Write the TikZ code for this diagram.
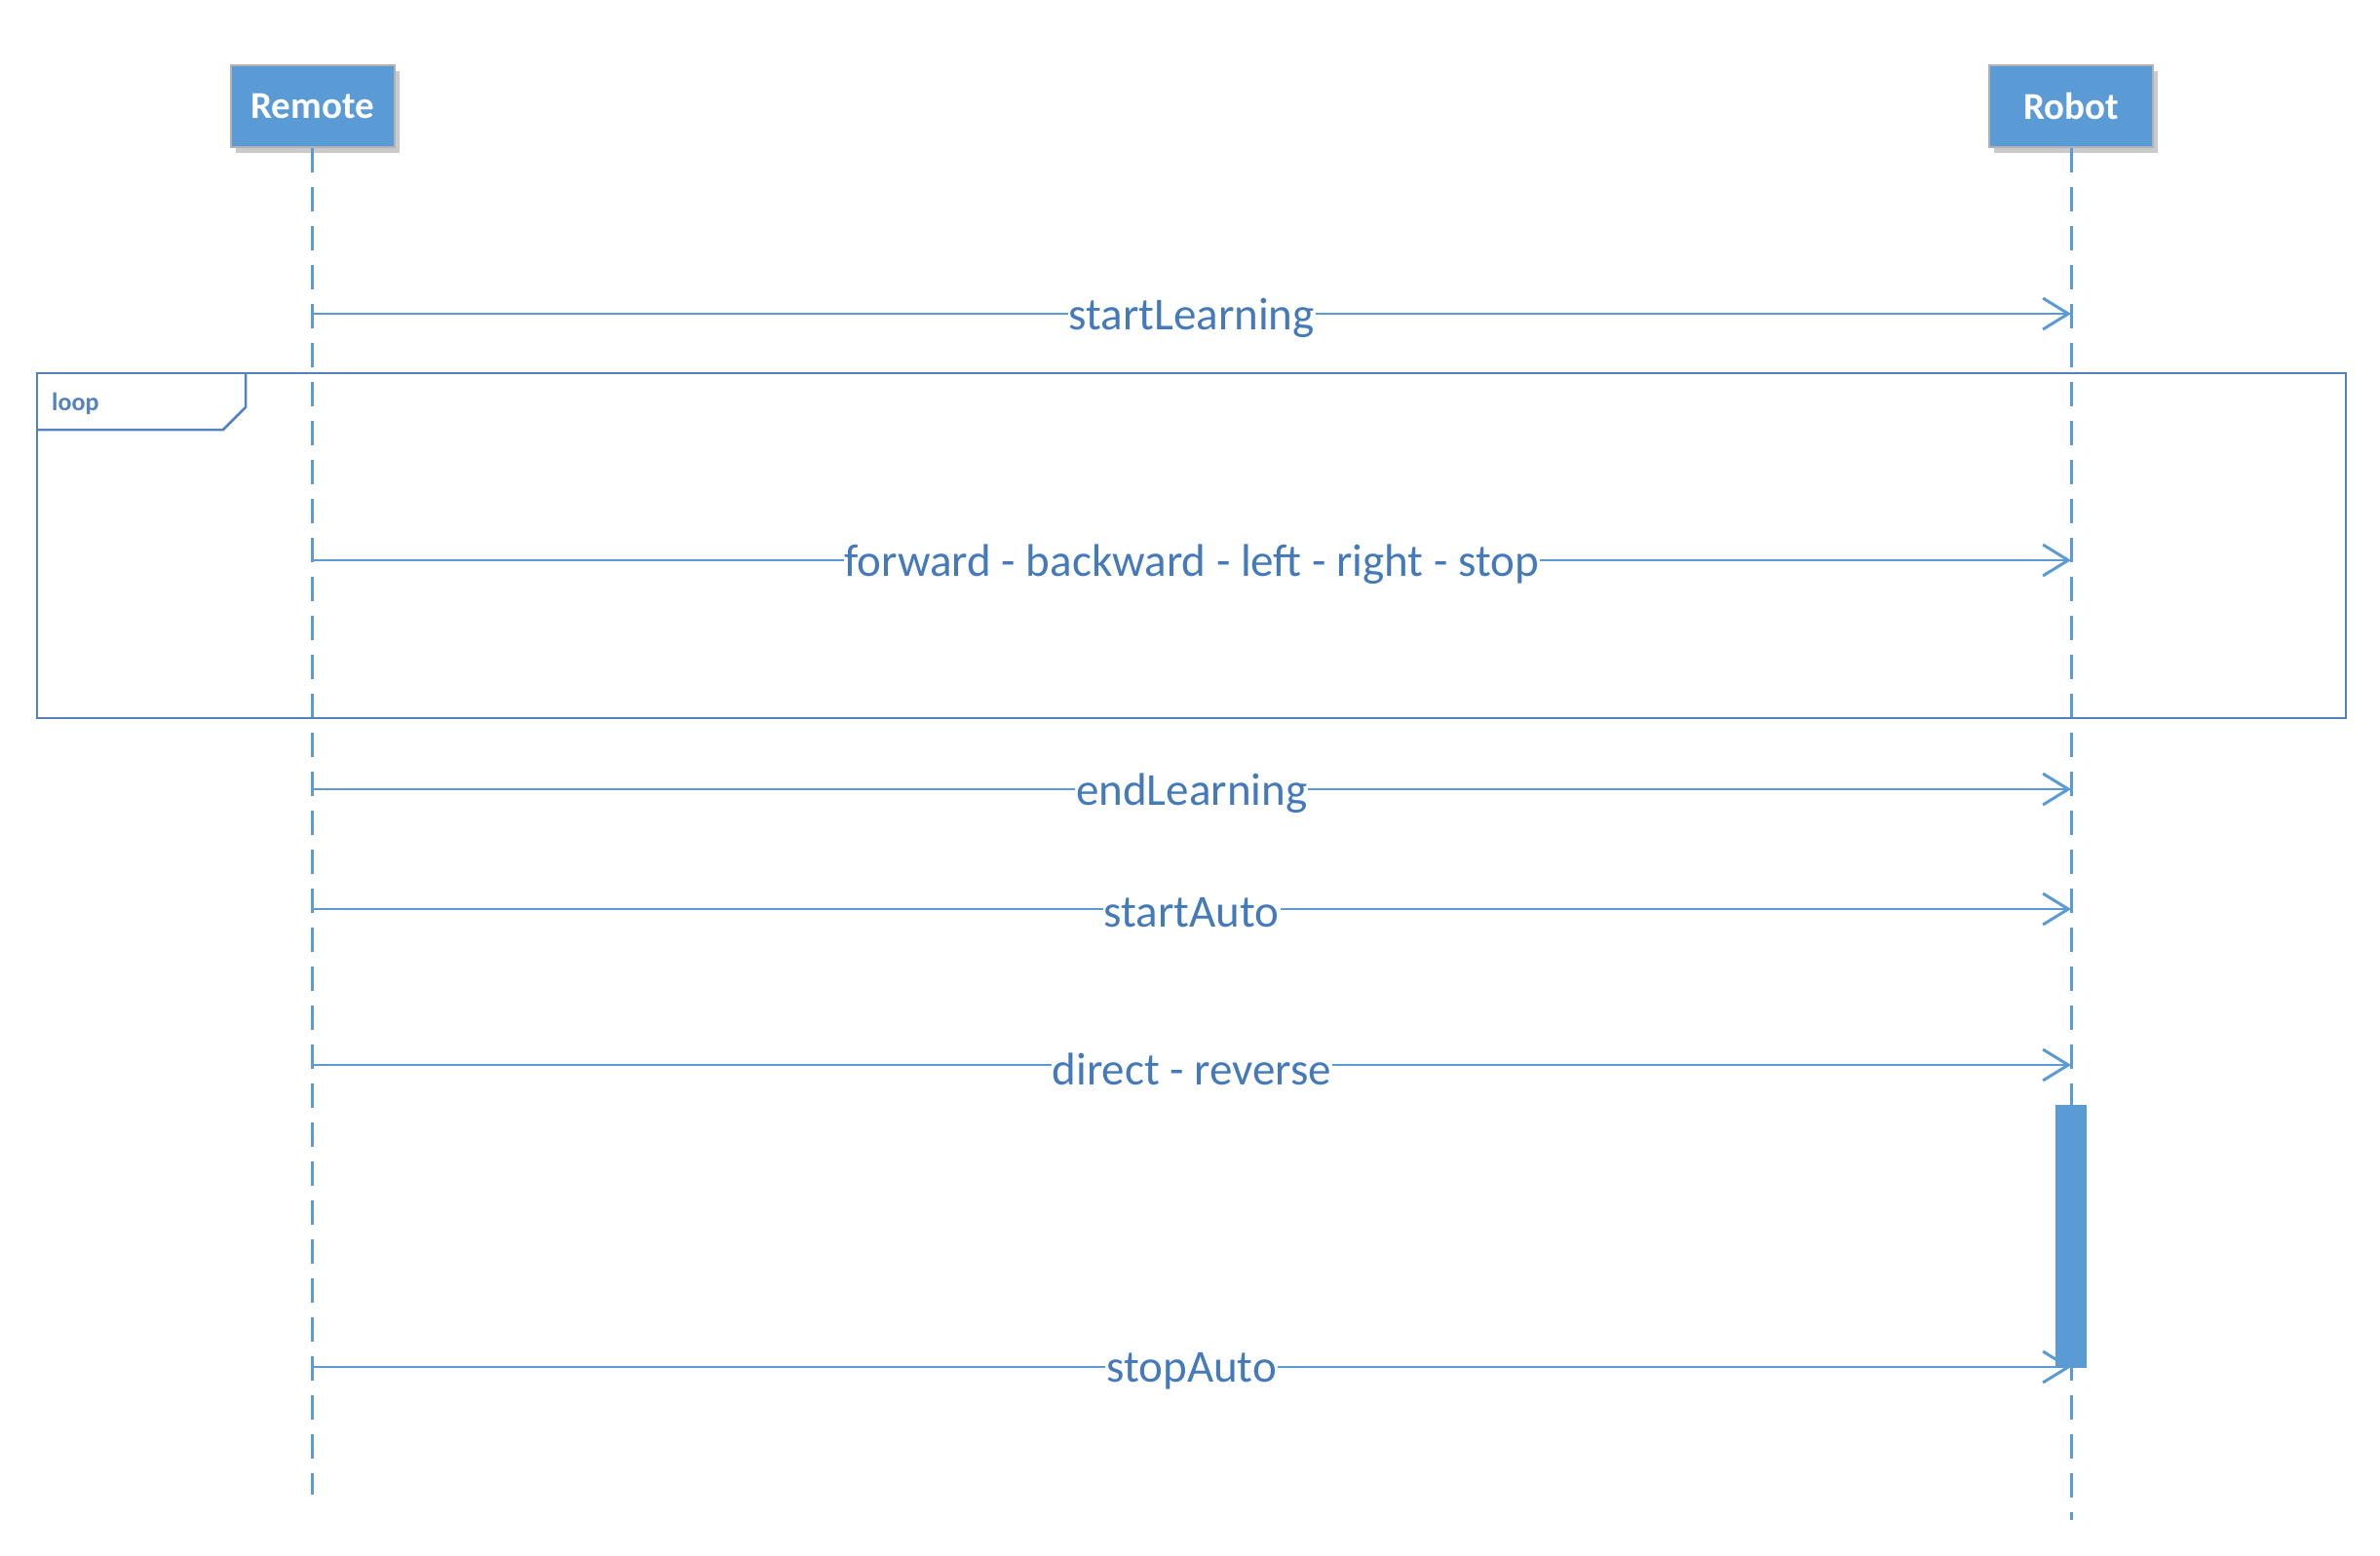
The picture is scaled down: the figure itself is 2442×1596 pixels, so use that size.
\documentclass[tikz,border=0pt]{standalone}
\usepackage{fontspec}
\setmainfont{Carlito}
\usetikzlibrary{arrows.meta,shadows}
\definecolor{lineblue}{RGB}{91,155,213}
\definecolor{textblue}{RGB}{68,122,186}
\definecolor{frameblue}{RGB}{84,130,190}
\begin{document}
\begin{tikzpicture}[x=1pt,y=-1pt,
  actor/.style={draw=black!30,line width=2pt,fill=lineblue,text=white,
    minimum width=168pt,minimum height=84pt,inner sep=0pt,
    font=\fontsize{39}{44}\selectfont\bfseries,
    drop shadow={shadow xshift=5pt,shadow yshift=-6pt,opacity=0.35,fill=black!60}},
  lifeline/.style={draw=lineblue,line width=3pt,dash pattern=on 25pt off 15pt},
  msg/.style={draw=lineblue,line width=2.5pt,-{Straight Barb[length=26pt,width=32pt,line width=3pt]}},
  lbl/.style={fill=white,text=textblue,inner sep=1pt,yshift=-4pt,font=\fontsize{47}{51}\selectfont},
  frame/.style={draw=frameblue,line width=2.5pt},
  framelbl/.style={text=frameblue,font=\fontsize{26}{30}\selectfont\bfseries,inner sep=0pt,anchor=west},
  actbar/.style={fill=lineblue,draw=none}]
\useasboundingbox (0,0) rectangle (2442,1596);
% actors
\node[actor] (Remote) at (320.5,108.5) {Remote};
\node[actor] (Robot) at (2125,108.5) {Robot};
% lifeline ends
\coordinate (remoteEnd) at (320.5,1534);
\coordinate (robotEnd) at (2125,1560);
\draw[lifeline] (Remote.south) -- (remoteEnd);
\draw[lifeline] (Robot.south) -- (robotEnd);
% loop frame
\draw[frame] (38,383) rectangle (2407,737);
\draw[frame] (38,441) -- (229,441) -- (252,418) -- (252,383);
\node[framelbl] (loopLbl) at (53,414) {loop};
% activation bar
\fill[actbar] (2109,1134) rectangle (2141,1404);
% message endpoints
\foreach \n/\y in {1/322,2/575,3/810,4/933,5/1093,6/1403}{
  \coordinate (r\n) at (320.5,\y);
  \coordinate (b\n) at (2125,\y);
}
\draw[msg] (r1) -- node[lbl] (m1) {startLearning} (b1);
\draw[msg] (r2) -- node[lbl] (m2) {forward - backward - left - right - stop} (b2);
\draw[msg] (r3) -- node[lbl] (m3) {endLearning} (b3);
\draw[msg] (r4) -- node[lbl] (m4) {startAuto} (b4);
\draw[msg] (r5) -- node[lbl] (m5) {direct - reverse} (b5);
\draw[msg] (r6) -- node[lbl] (m6) {stopAuto} (b6);
\end{tikzpicture}
\end{document}
